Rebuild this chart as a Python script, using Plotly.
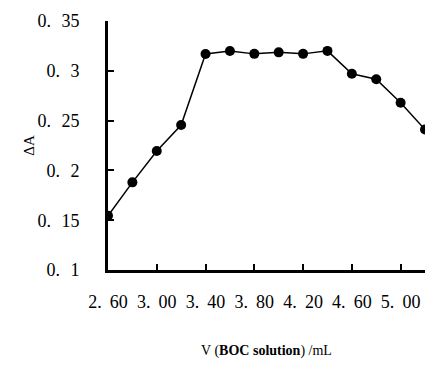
import plotly.graph_objects as go

volume_ml = [2.6, 2.8, 3.0, 3.2, 3.4, 3.6, 3.8, 4.0, 4.2, 4.4, 4.6, 4.8, 5.0, 5.2]
delta_a = [0.1545, 0.188, 0.2195, 0.2456, 0.3169, 0.3199, 0.317, 0.3185, 0.317, 0.320, 0.297, 0.2915, 0.268, 0.241]

x_ticks = [2.6, 3.0, 3.4, 3.8, 4.2, 4.6, 5.0]
x_ticktext = ["2. \u200960", "3. \u200900", "3. \u200940", "3. \u200980", "4. \u200920", "4. \u200960", "5. \u200900"]
y_ticks = [0.1, 0.15, 0.2, 0.25, 0.3, 0.35]
y_ticktext = ["0. \u20041", "0. \u200415", "0. \u20042", "0. \u200425", "0. \u20043", "0. \u200435"]

font_serif = "Liberation Serif, DejaVu Serif, serif"
tick_font = dict(family=font_serif, size=18, color="black")

fig = go.Figure()
fig.add_trace(go.Scatter(
    x=volume_ml, y=delta_a, mode="lines+markers",
    line=dict(color="black", width=1.5),
    marker=dict(color="black", size=10),
    showlegend=False,
))

fig.update_layout(
    width=425, height=379,
    margin=dict(l=108, r=0, t=21, b=109),
    paper_bgcolor="white", plot_bgcolor="white",
    font=dict(family=font_serif, color="black", size=16),
    xaxis=dict(
        range=[2.6, 5.2], tickvals=x_ticks, ticktext=x_ticktext,
        showgrid=False, zeroline=False, automargin=False,
        showline=True, linecolor="black", linewidth=3,
        ticks="inside", ticklen=6, tickwidth=2, tickcolor="black",
        tickfont=tick_font, ticklabelstandoff=13,
        title=dict(text="V (<b>BOC solution</b>) /mL", font=dict(size=14, family=font_serif), standoff=35),
    ),
    yaxis=dict(
        range=[0.1, 0.35], tickvals=y_ticks, ticktext=y_ticktext,
        showgrid=False, zeroline=False, automargin=False,
        showline=True, linecolor="black", linewidth=3,
        ticks="inside", ticklen=6, tickwidth=2, tickcolor="black",
        tickfont=tick_font, ticklabelstandoff=22,
        title=dict(text="ΔA", font=dict(size=15, family=font_serif), standoff=0),
    ),
)

fig.write_html(
    "out.html",
    config={"displayModeBar": False},
    post_script="document.body.style.margin='0';document.body.style.overflow='hidden';",
)
